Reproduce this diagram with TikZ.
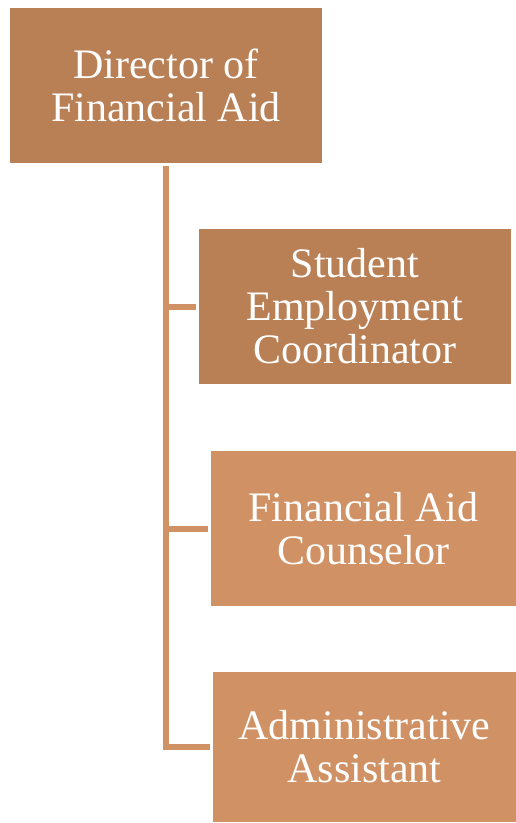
\documentclass[tikz,border=0pt]{standalone}
\usepackage{fontspec}
\setmainfont{Liberation Serif}
\definecolor{darkbox}{HTML}{B97F55}
\definecolor{lightbox}{HTML}{D09164}
\definecolor{linkc}{HTML}{D09164}
\begin{document}
\begin{tikzpicture}[x=1pt,y=-1pt,
  box/.style={rectangle, inner sep=0pt, text=white, align=center,
    font=\fontsize{42}{43}\selectfont},
  link/.style={draw=linkc, line width=6pt, shorten >=3pt}]
\useasboundingbox[fill=white] (0,0) rectangle (516,823);
\node[box, fill=darkbox, minimum width=312pt, minimum height=155pt] (dir) at (166,85.5) {Director of\\Financial Aid};
\node[box, fill=darkbox, minimum width=312pt, minimum height=155pt] (sec) at (355,306.5) {Student\\Employment\\Coordinator};
\node[box, fill=lightbox, minimum width=305pt, minimum height=155pt] (fac) at (363.5,528.5) {Financial Aid\\Counselor};
\node[box, fill=lightbox, minimum width=303pt, minimum height=150pt] (aa) at (364.5,747) {Administrative\\Assistant};
\draw[link, shorten <=3pt] (dir.south) |- (aa.west);
\draw[link] (dir.south |- sec.west) -- (sec.west);
\draw[link] (dir.south |- fac.west) -- (fac.west);
\end{tikzpicture}
\end{document}
